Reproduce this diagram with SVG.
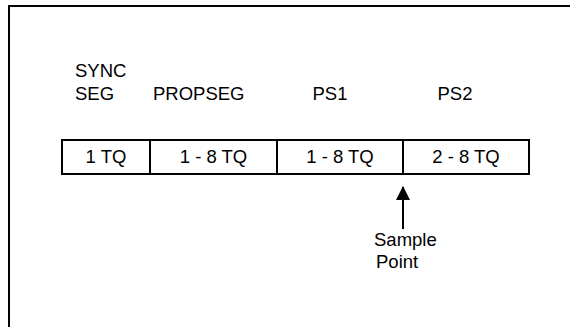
<svg xmlns="http://www.w3.org/2000/svg" width="570" height="327" viewBox="0 0 570 327">
<style>
text{font-family:"Liberation Sans",Arial,sans-serif;font-size:18.5px;fill:#000}
.frame{fill:none;stroke:#000;stroke-width:2}
.cell{fill:#fff;stroke:#000;stroke-width:2}
.c{text-anchor:middle}
</style>
<defs>
<marker id="ah" markerWidth="14" markerHeight="14" refX="13" refY="7" orient="auto" markerUnits="userSpaceOnUse" viewBox="0 0 14 14">
<path d="M0,0 L14,7 L0,14 Z" fill="#000"/>
</marker>
</defs>
<rect width="570" height="327" fill="#fff"/>
<path class="frame" d="M9,327 V6 H570"/>
<g id="labels">
<text x="75" y="77">SYNC</text>
<text x="75" y="100">SEG</text>
<text x="153" y="100">PROPSEG</text>
<text class="c" x="330" y="100">PS1</text>
<text class="c" x="455" y="100">PS2</text>
</g>
<g id="syncseg"><rect class="cell" x="62" y="140" width="88" height="34"/><text class="c" x="106" y="163">1 TQ</text></g>
<g id="propseg"><rect class="cell" x="150" y="140" width="127" height="34"/><text class="c" x="213.5" y="163">1 - 8 TQ</text></g>
<g id="ps1"><rect class="cell" x="277" y="140" width="126" height="34"/><text class="c" x="340" y="163">1 - 8 TQ</text></g>
<g id="ps2"><rect class="cell" x="403" y="140" width="126" height="34"/><text class="c" x="466" y="163">2 - 8 TQ</text></g>
<g id="connectors">
<line x1="403" y1="229" x2="403" y2="187" stroke="#000" stroke-width="2" marker-end="url(#ah)"/>
</g>
<g id="sample">
<text x="374" y="246">Sample</text>
<text x="376" y="268">Point</text>
</g>
</svg>
